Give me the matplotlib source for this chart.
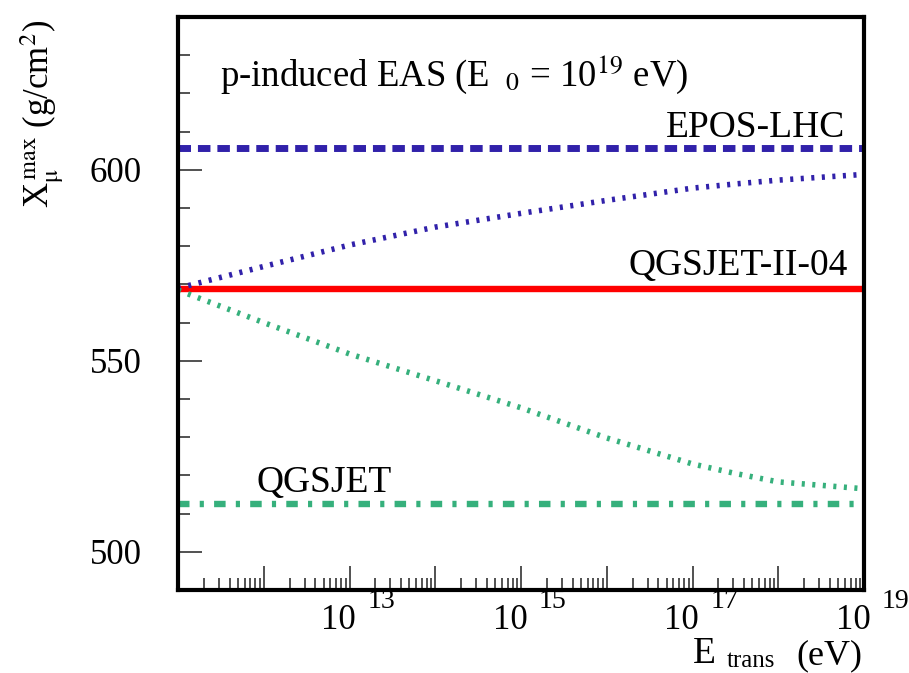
import numpy as np
import matplotlib
matplotlib.use("Agg")
import matplotlib.pyplot as plt
from matplotlib.ticker import FixedLocator, LogLocator, NullFormatter, MultipleLocator

plt.rcParams['font.family'] = ['Liberation Serif', 'DejaVu Serif']
plt.rcParams['mathtext.fontset'] = 'stix'

# data
log_e_trans = [11, 12, 13, 14, 15, 16, 17, 17.5, 18, 19]
xmax_epos_mix = [569.0, 574.7, 580.3, 585.0, 588.6, 592.0, 595.2, 596.3, 597.3, 598.8]
xmax_qgsjet_mix = [568.5, 560.0, 551.8, 544.8, 537.7, 529.8, 523.0, 520.5, 518.3, 516.5]
xmax_epos_lhc = 605.8
xmax_qgsjet_ii = 568.8
xmax_qgsjet = 512.5
e_range = [1e11, 1e19]
labelled_decades = [13, 15, 17, 19]

blue = '#3121aa'
green = '#36b07c'
red = '#ff0000'

fig = plt.figure(figsize=(9.09, 6.73), dpi=100)
ax = fig.add_axes([178 / 909, 83 / 673, 686 / 909, 573 / 673])

e_trans = 10.0 ** np.array(log_e_trans)

ax.plot(e_range, [xmax_epos_lhc] * 2, color=blue, lw=5.0, dashes=(1.8, 1.0),
        solid_capstyle='butt', dash_capstyle='butt')
ax.plot(e_range, [xmax_qgsjet_ii] * 2, color=red, lw=4.6, solid_capstyle='butt')
ax.plot(e_range, [xmax_qgsjet] * 2, color=green, lw=4.6,
        dashes=(1.8, 1.6, 0.65, 1.6), dash_capstyle='butt')
ax.plot(e_trans, xmax_epos_mix, color=blue, lw=4.0, dashes=(0.55, 1.35), dash_capstyle='butt')
ax.plot(e_trans, xmax_qgsjet_mix, color=green, lw=4.0, dashes=(0.55, 1.35), dash_capstyle='butt')

ax.set_xscale('log')
ax.set_xlim(e_range)
ax.set_ylim(490, 640)

for s in ax.spines.values():
    s.set_linewidth(3.0)

ax.xaxis.set_major_locator(LogLocator(base=10, numticks=20))
ax.xaxis.set_minor_locator(LogLocator(base=10, subs=np.arange(2, 10), numticks=20))
ax.xaxis.set_major_formatter(NullFormatter())
ax.xaxis.set_minor_formatter(NullFormatter())
ax.yaxis.set_major_locator(FixedLocator([500, 550, 600]))
ax.yaxis.set_minor_locator(MultipleLocator(10))
ax.tick_params(which='both', direction='in', top=False, right=False, color='#222222', width=1.1)
ax.tick_params(which='major', length=17)
ax.tick_params(which='minor', length=8.5)
ax.tick_params(axis='y', which='major', labelsize=25, pad=26)

# ROOT style x tick labels: "10" with a detached exponent
for d in labelled_decades:
    ax.annotate('10', xy=(10.0 ** d, 0), xycoords=('data', 'axes fraction'),
                xytext=(-8, -22), textcoords='offset points', ha='center', va='center',
                fontsize=25, annotation_clip=False)
    ax.annotate(str(d), xy=(10.0 ** d, 0), xycoords=('data', 'axes fraction'),
                xytext=(23, -8), textcoords='offset points', ha='center', va='center',
                fontsize=20, annotation_clip=False)

ax.text(0.061, 0.88, r'p-induced EAS (E$_{\,\ \ 0}$ = 10$^{19}$ eV)', transform=ax.transAxes,
        fontsize=26.5, ha='left', va='baseline')
ax.text(0.972, 0.79, 'EPOS-LHC', transform=ax.transAxes, fontsize=27, ha='right', va='baseline')
ax.text(0.977, 0.55, 'QGSJET-II-04', transform=ax.transAxes, fontsize=27, ha='right', va='baseline')
ax.text(0.115, 0.171, 'QGSJET', transform=ax.transAxes, fontsize=27, ha='left', va='baseline')

fig.text(42 / 909, 1 - 20 / 673, r'X$_{\mathrm{\mu}}^{\,\mathrm{max}}$ (g/cm$^2$)', rotation=90,
         ha='center', va='top', fontsize=25)
fig.text(693 / 909, 1 - 671 / 673, 'E', fontsize=27, ha='left', va='bottom')
fig.text(727 / 909, 1 - 672 / 673, 'trans', fontsize=18, ha='left', va='bottom')
fig.text(862 / 909, 1 - 672 / 673, '(eV)', fontsize=26, ha='right', va='bottom')

fig.savefig('out.png', dpi=100)
